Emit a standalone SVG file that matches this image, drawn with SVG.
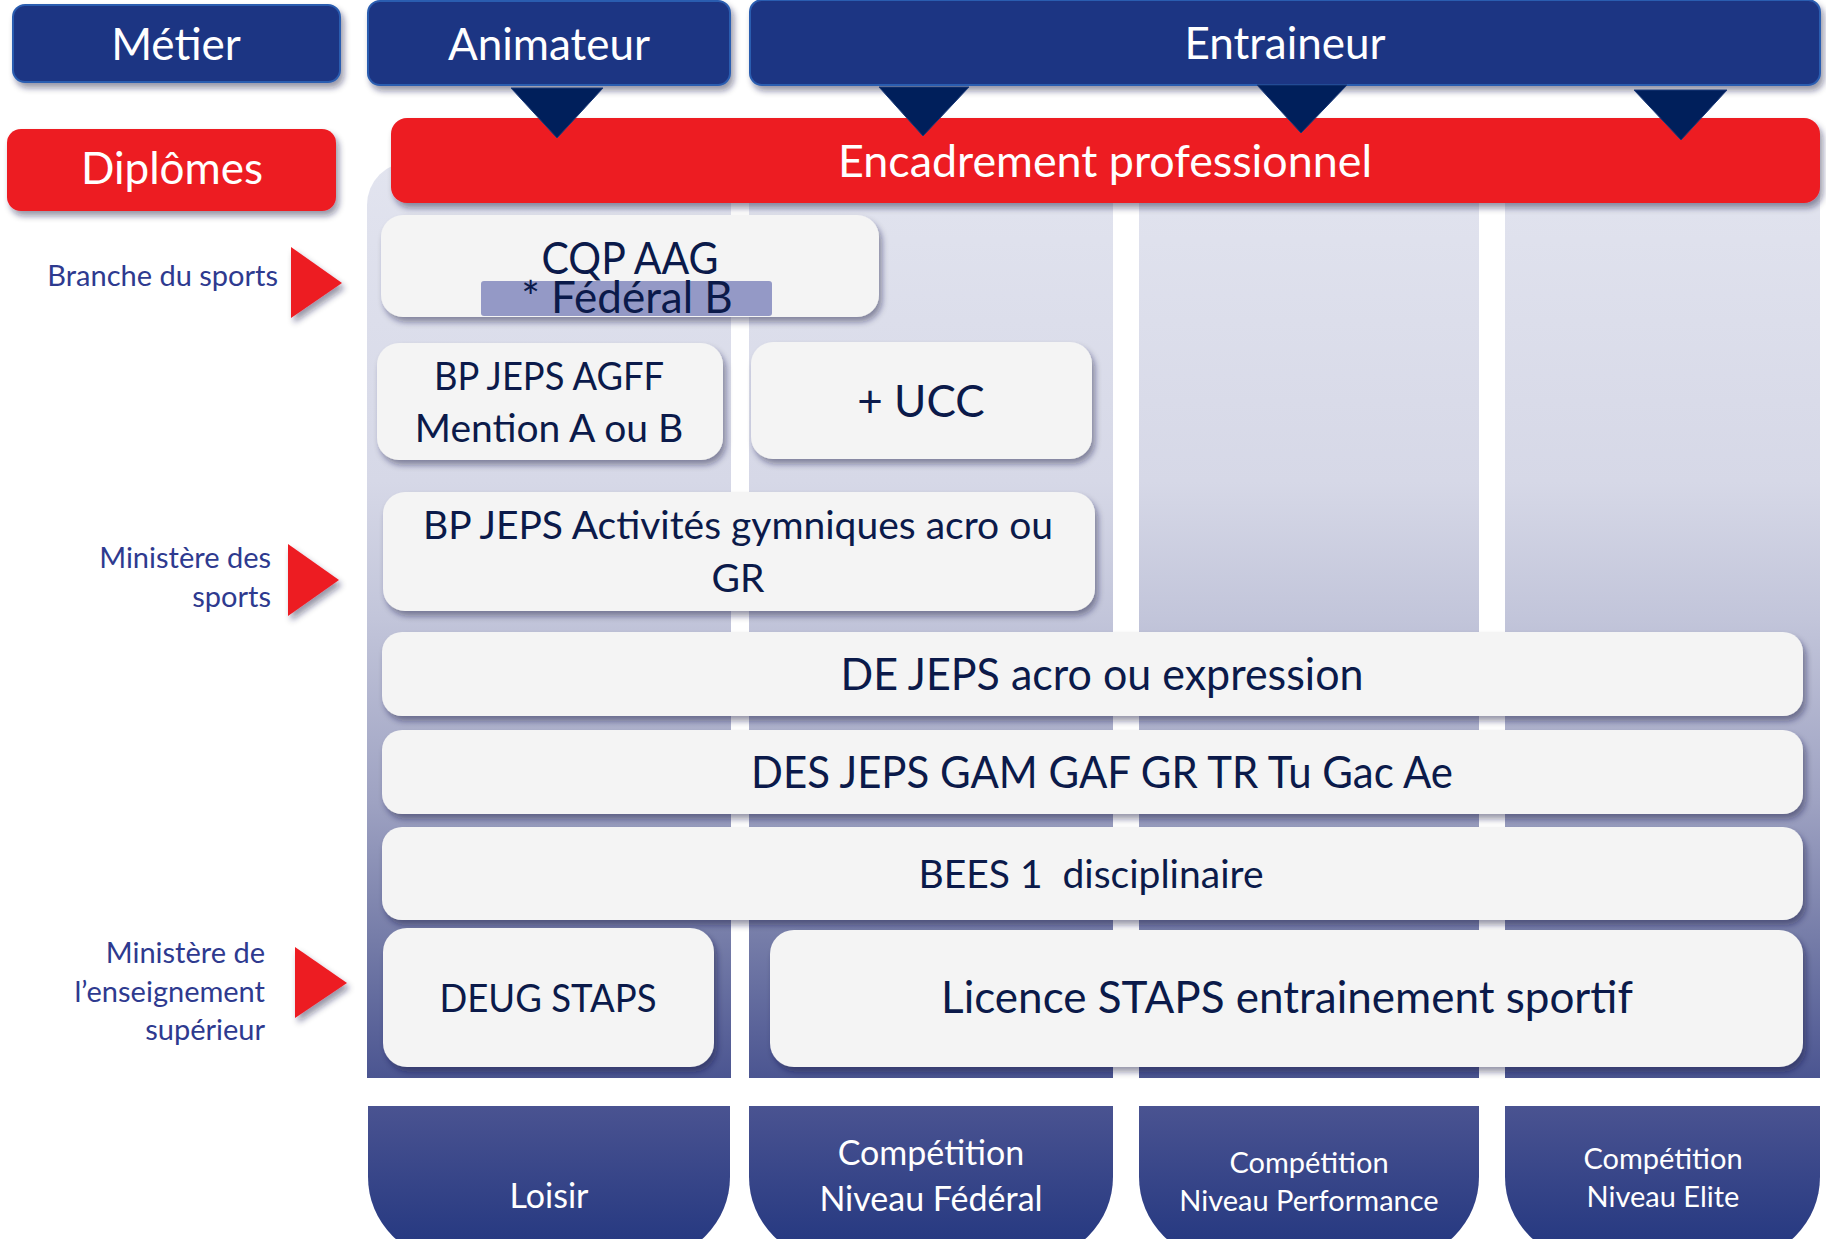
<svg xmlns="http://www.w3.org/2000/svg" width="1826" height="1239" viewBox="0 0 1826 1239">
<defs>
 <linearGradient id="colGrad" gradientUnits="userSpaceOnUse" x1="0" y1="160" x2="0" y2="1078">
  <stop offset="0" stop-color="#e2e4ef"/>
  <stop offset="0.35" stop-color="#d6d8e7"/>
  <stop offset="0.5" stop-color="#c2c5da"/>
  <stop offset="0.7" stop-color="#9ea2c2"/>
  <stop offset="0.85" stop-color="#757ca8"/>
  <stop offset="1" stop-color="#4b5591"/>
 </linearGradient>
 <linearGradient id="tabGrad" x1="0" y1="0" x2="0" y2="1">
  <stop offset="0" stop-color="#4a5391"/>
  <stop offset="1" stop-color="#22367f"/>
 </linearGradient>
 <filter id="sh" x="-10%" y="-20%" width="125%" height="150%">
  <feDropShadow dx="3" dy="5" stdDeviation="3" flood-color="#1a1f40" flood-opacity="0.45"/>
 </filter>
</defs>
<style>
 text { font-family: Lato, "Open Sans", sans-serif; }
 .hdr { fill:#1f3483; stroke:#2a5db0; stroke-width:2; }
 .red { fill:#ed1c24; }
 .box { fill:#f4f4f4; }
 .wt { fill:#ffffff; text-anchor:middle; }
 .bt { fill:#0b1a4a; text-anchor:middle; }
 .lt { fill:#2e3a8f; text-anchor:end; font-size:29px; }
 .tri { fill:#001f5b; stroke:#1a3a7a; stroke-width:1; }
 .arr { fill:#ed1c24; }
 .col { fill:url(#colGrad); }
 .tab { fill:url(#tabGrad); }
 .big { font-size:44px; }
 .mid { font-size:39px; }
</style>

<g id="columns">
 <path class="col" d="M367,1078 V205 A43,43 0 0 1 410,162 H731 V1078 Z"/>
 <rect class="col" x="749" y="162" width="364" height="916"/>
 <rect class="col" x="1139" y="162" width="340" height="916"/>
 <rect class="col" x="1505" y="162" width="315" height="916"/>
</g>

<g id="tab-loisir">
 <path class="tab" d="M368,1106 H730 V1177 A83,83 0 0 1 647,1260 H451 A83,83 0 0 1 368,1177 Z"/>
 <text class="wt" x="549" y="1208" font-size="34">Loisir</text>
</g>
<g id="tab-federal">
 <path class="tab" d="M749,1106 H1113 V1177 A83,83 0 0 1 1030,1260 H832 A83,83 0 0 1 749,1177 Z"/>
 <text class="wt" x="931" y="1165" font-size="34">Compétition</text>
 <text class="wt" x="931" y="1211" font-size="34">Niveau Fédéral</text>
</g>
<g id="tab-performance">
 <path class="tab" d="M1139,1106 H1479 V1177 A83,83 0 0 1 1396,1260 H1222 A83,83 0 0 1 1139,1177 Z"/>
 <text class="wt" x="1309" y="1173" font-size="29">Compétition</text>
 <text class="wt" x="1309" y="1211" font-size="29">Niveau Performance</text>
</g>
<g id="tab-elite">
 <path class="tab" d="M1505,1106 H1820 V1177 A83,83 0 0 1 1737,1260 H1588 A83,83 0 0 1 1505,1177 Z"/>
 <text class="wt" x="1663" y="1169" font-size="29">Compétition</text>
 <text class="wt" x="1663" y="1207" font-size="29">Niveau Elite</text>
</g>

<g id="encadrement">
 <rect class="red" x="391" y="118" width="1429" height="85" rx="16" filter="url(#sh)"/>
 <text class="wt big" x="1105" y="177" textLength="534" lengthAdjust="spacingAndGlyphs">Encadrement professionnel</text>
</g>

<g id="metier">
 <rect class="hdr" x="13" y="5" width="327" height="77" rx="12" filter="url(#sh)"/>
 <text class="wt big" x="176" y="60">Métier</text>
</g>
<g id="animateur">
 <rect class="hdr" x="368" y="1" width="362" height="84" rx="12" filter="url(#sh)"/>
 <text class="wt big" x="549" y="60">Animateur</text>
</g>
<g id="entraineur">
 <rect class="hdr" x="750" y="0" width="1070" height="85" rx="12" filter="url(#sh)"/>
 <text class="wt big" x="1285" y="59">Entraineur</text>
</g>
<g id="diplomes">
 <rect class="red" x="7" y="129" width="329" height="82" rx="14" filter="url(#sh)"/>
 <text class="wt big" x="172" y="184">Diplômes</text>
</g>

<g id="connectors">
 <polygon class="tri" points="511,88 603,88 557,138"/>
 <polygon class="tri" points="879,87 969,87 923,136"/>
 <polygon class="tri" points="1257,85 1347,85 1301,133"/>
 <polygon class="tri" points="1634,90 1727,90 1681,140"/>
 <polygon class="arr" points="291,247 342,283 291,318" filter="url(#sh)"/>
 <polygon class="arr" points="288,544 339,580 288,616" filter="url(#sh)"/>
 <polygon class="arr" points="295,947 347,983 295,1018" filter="url(#sh)"/>
</g>

<g id="cqp">
 <rect class="box" x="381" y="215" width="498" height="102" rx="22" filter="url(#sh)"/>
 <text class="bt big" x="630" y="274" textLength="177" lengthAdjust="spacingAndGlyphs">CQP AAG</text>
 <rect x="481" y="281" width="291" height="35" rx="3" fill="#9499c6"/>
 <text class="bt big" x="627" y="313">* Fédéral B</text>
</g>
<g id="bpjeps-agff">
 <rect class="box" x="377" y="343" width="346" height="117" rx="22" filter="url(#sh)"/>
 <text class="bt mid" x="549" y="390" textLength="230" lengthAdjust="spacingAndGlyphs">BP JEPS AGFF</text>
 <text class="bt mid" x="549" y="442">Mention A ou B</text>
</g>
<g id="ucc">
 <rect class="box" x="751" y="342" width="341" height="117" rx="22" filter="url(#sh)"/>
 <text class="bt big" x="921" y="417">+ UCC</text>
</g>
<g id="bpjeps-activites">
 <rect class="box" x="383" y="492" width="712" height="119" rx="22" filter="url(#sh)"/>
 <text class="bt mid" x="738" y="539">BP JEPS Activités gymniques acro ou</text>
 <text class="bt mid" x="738" y="592">GR</text>
</g>
<g id="dejeps">
 <rect class="box" x="382" y="632" width="1421" height="84" rx="20" filter="url(#sh)"/>
 <text class="bt big" x="1102" y="690" textLength="523" lengthAdjust="spacingAndGlyphs">DE JEPS acro ou expression</text>
</g>
<g id="desjeps">
 <rect class="box" x="382" y="730" width="1421" height="84" rx="20" filter="url(#sh)"/>
 <text class="bt big" x="1102" y="788" textLength="702" lengthAdjust="spacingAndGlyphs">DES JEPS GAM GAF GR TR Tu Gac Ae</text>
</g>
<g id="bees">
 <rect class="box" x="382" y="827" width="1421" height="93" rx="20" filter="url(#sh)"/>
 <text class="bt mid" x="1091" y="888" xml:space="preserve">BEES 1  disciplinaire</text>
</g>
<g id="deug">
 <rect class="box" x="383" y="928" width="331" height="139" rx="24" filter="url(#sh)"/>
 <text class="bt mid" x="548" y="1012" textLength="217" lengthAdjust="spacingAndGlyphs">DEUG STAPS</text>
</g>
<g id="licence">
 <rect class="box" x="770" y="930" width="1033" height="137" rx="24" filter="url(#sh)"/>
 <text class="bt big" x="1287" y="1013">Licence STAPS entrainement sportif</text>
</g>

<g id="label-branche">
 <text class="lt" x="278" y="286">Branche du sports</text>
</g>
<g id="label-ministere-sports">
 <text class="lt" x="271" y="568">Ministère des</text>
 <text class="lt" x="271" y="607">sports</text>
</g>
<g id="label-ministere-sup">
 <text class="lt" x="265" y="963">Ministère de</text>
 <text class="lt" x="265" y="1002">l’enseignement</text>
 <text class="lt" x="265" y="1040">supérieur</text>
</g>
</svg>
